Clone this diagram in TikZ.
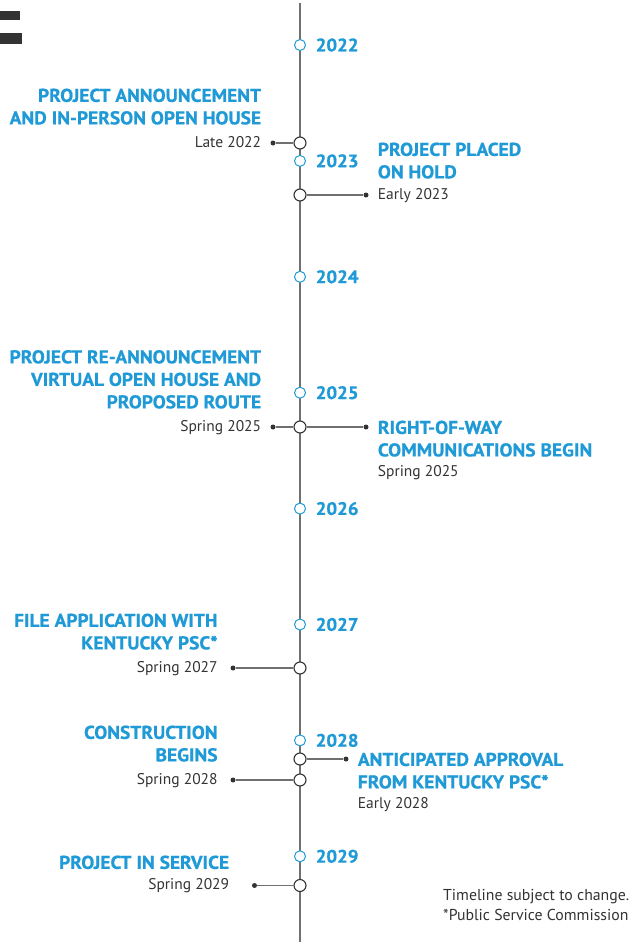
\documentclass[tikz,border=0pt]{standalone}
\usepackage{fontspec}
\setmainfont{PT Sans}
\newfontfamily\titlefont{PT Sans Bold}[FakeStretch=1.05, FakeBold=0.8]
\usetikzlibrary{positioning}
\definecolor{tlblue}{HTML}{1F9AD6}
\definecolor{tlgray}{HTML}{707070}
\definecolor{tldark}{HTML}{333333}
\tikzset{
  spine/.style={tlgray, line width=1.3pt},
  link/.style={tlgray, line width=1.2pt},
  yearmark/.style={circle, draw=tlblue, fill=white, line width=1pt, minimum size=11pt, inner sep=0pt},
  eventmark/.style={circle, draw=tldark, fill=white, line width=1.1pt, minimum size=12pt, inner sep=0pt},
  enddot/.style={circle, fill=tldark, minimum size=5pt, inner sep=0pt},
  yeartext/.style={font=\titlefont\fontsize{18}{22}\selectfont, text=tlblue, inner sep=0pt},
  what/.style={font=\titlefont\fontsize{18.5}{22.5}\selectfont, text=tlblue, inner sep=0pt},
  when/.style={font=\fontsize{15.5}{18}\selectfont, text=tldark, inner sep=0pt, text height=11pt, text depth=3pt},
  note/.style={font=\fontsize{15.8}{20.6}\selectfont, text=tldark, inner sep=0pt, align=left},
}
\begin{document}
\begin{tikzpicture}[x=1pt, y=-1pt]
  \useasboundingbox (0,0) rectangle (634,943);
  \fill[tldark] (0,11) rectangle (19.5,20);
  \fill[tldark] (0,33) rectangle (22,44);
  \coordinate (top) at (300,3);
  \coordinate (bottom) at (300,942);
  \draw[spine] (top) -- (bottom);
  \foreach \yr [count=\i from 0] in {2022,...,2029}
    \node[yearmark, label={[yeartext, label distance=9.5pt]right:\yr}] (y\yr) at (300,45+115.9*\i) {};

  % late 2022
  \node[eventmark] (e1) at (300,143) {};
  \node[enddot] (d1) at (273,143) {};
  \draw[link] (d1) -- (e1);
  \node[when, left=9pt of d1] (w1) {Late 2022};
  \node[what, align=right, above left=11pt and 0pt of w1.north east] (t1) {PROJECT ANNOUNCEMENT\\AND IN-PERSON OPEN HOUSE};

  % early 2023
  \node[eventmark] (e2) at (300,195) {};
  \node[enddot] (d2) at (366,195) {};
  \draw[link] (e2) -- (d2);
  \node[when, right=9pt of d2] (w2) {Early 2023};
  \node[what, align=left, above right=9pt and 0pt of w2.north west] (t2) {PROJECT PLACED\\ON HOLD};

  % spring 2025
  \node[eventmark] (e3) at (300,427) {};
  \node[enddot] (d3) at (273,427) {};
  \node[enddot] (d4) at (366,427) {};
  \draw[link] (d3) -- (e3) -- (d4);
  \node[when, left=9pt of d3] (w3) {Spring 2025};
  \node[what, align=right, above left=11pt and 0pt of w3.north east] (t3) {PROJECT RE-ANNOUNCEMENT\\VIRTUAL OPEN HOUSE AND\\PROPOSED ROUTE};
  \node[what, align=left, below right=-6.5pt and 9pt of d4.east] (t4) {RIGHT-OF-WAY\\COMMUNICATIONS BEGIN};
  \node[when, below right=8pt and 0pt of t4.south west] (w4) {Spring 2025};

  % spring 2027
  \node[eventmark] (e5) at (300,668) {};
  \node[enddot] (d5) at (233,668) {};
  \draw[link] (d5) -- (e5);
  \node[when, left=12.5pt of d5] (w5) {Spring 2027};
  \node[what, align=right, above left=11pt and 0pt of w5.north east] (t5) {FILE APPLICATION WITH\\KENTUCKY PSC*};

  % early 2028
  \node[eventmark] (e6) at (300,759) {};
  \node[enddot] (d6) at (346,759) {};
  \draw[link] (e6) -- (d6);
  \node[what, align=left, below right=-6.5pt and 9pt of d6.east] (t6) {ANTICIPATED APPROVAL\\FROM KENTUCKY PSC*};
  \node[when, below right=8pt and 0pt of t6.south west] (w6) {Early 2028};

  % spring 2028
  \node[eventmark] (e7) at (300,780) {};
  \node[enddot] (d7) at (233,780) {};
  \draw[link] (d7) -- (e7);
  \node[when, left=12.5pt of d7] (w7) {Spring 2028};
  \node[what, align=right, above left=11pt and 0pt of w7.north east] (t7) {CONSTRUCTION\\BEGINS};

  % spring 2029
  \node[eventmark] (e8) at (300,885.5) {};
  \node[enddot] (d8) at (254.5,885.5) {};
  \draw[link] (d8) -- (e8);
  \node[when, left=22.5pt of d8] (w8) {Spring 2029};
  \node[what, align=right, above left=9pt and 0pt of w8.north east] (t8) {PROJECT IN SERVICE};

  \node[note, anchor=north west] (fn) at (443,889) {Timeline subject to change.\\{}*Public Service Commission};
\end{tikzpicture}
\end{document}
